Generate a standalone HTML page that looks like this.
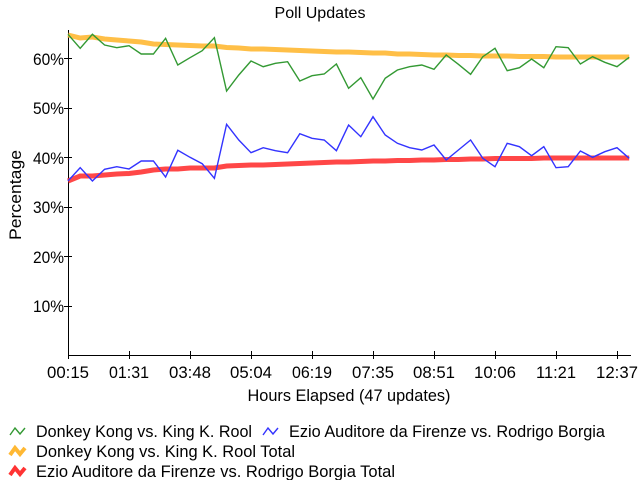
<!DOCTYPE html>
<html><head><meta charset="utf-8"><style>
html,body{margin:0;padding:0;background:#fff;}
svg{display:block;font-family:"Liberation Sans",sans-serif;}
</style></head><body>
<svg width="640" height="480" viewBox="0 0 640 480" xmlns="http://www.w3.org/2000/svg">
<rect width="640" height="480" fill="#fff"/>
<text x="320" y="18" font-size="16" text-anchor="middle" textLength="91" lengthAdjust="spacingAndGlyphs">Poll Updates</text>
<!-- axes -->
<g stroke="#000" stroke-width="1" fill="none">
<line x1="68.5" y1="30" x2="68.5" y2="356"/>
<line x1="68" y1="355.5" x2="631" y2="355.5"/>
<line x1="64" y1="58.5" x2="72" y2="58.5"/>
<line x1="64" y1="108.5" x2="72" y2="108.5"/>
<line x1="64" y1="157.5" x2="72" y2="157.5"/>
<line x1="64" y1="207.5" x2="72" y2="207.5"/>
<line x1="64" y1="256.5" x2="72" y2="256.5"/>
<line x1="64" y1="306.5" x2="72" y2="306.5"/>
<line x1="68.5" y1="351" x2="68.5" y2="359"/>
<line x1="129.5" y1="351" x2="129.5" y2="359"/>
<line x1="190.5" y1="351" x2="190.5" y2="359"/>
<line x1="251.5" y1="351" x2="251.5" y2="359"/>
<line x1="312.5" y1="351" x2="312.5" y2="359"/>
<line x1="373.5" y1="351" x2="373.5" y2="359"/>
<line x1="434.5" y1="351" x2="434.5" y2="359"/>
<line x1="495.5" y1="351" x2="495.5" y2="359"/>
<line x1="556.5" y1="351" x2="556.5" y2="359"/>
<line x1="617.5" y1="351" x2="617.5" y2="359"/>
</g>
<g font-size="17" text-anchor="end">
<text x="64" y="65" textLength="31" lengthAdjust="spacingAndGlyphs">60%</text>
<text x="64" y="114" textLength="31" lengthAdjust="spacingAndGlyphs">50%</text>
<text x="64" y="164" textLength="31" lengthAdjust="spacingAndGlyphs">40%</text>
<text x="64" y="213" textLength="31" lengthAdjust="spacingAndGlyphs">30%</text>
<text x="64" y="263" textLength="31" lengthAdjust="spacingAndGlyphs">20%</text>
<text x="64" y="312" textLength="31" lengthAdjust="spacingAndGlyphs">10%</text>
</g>
<g font-size="17" text-anchor="middle">
<text x="68" y="378" textLength="42" lengthAdjust="spacingAndGlyphs">00:15</text>
<text x="129" y="378" textLength="40" lengthAdjust="spacingAndGlyphs">01:31</text>
<text x="190" y="378" textLength="42" lengthAdjust="spacingAndGlyphs">03:48</text>
<text x="251" y="378" textLength="42" lengthAdjust="spacingAndGlyphs">05:04</text>
<text x="312" y="378" textLength="40" lengthAdjust="spacingAndGlyphs">06:19</text>
<text x="373" y="378" textLength="42" lengthAdjust="spacingAndGlyphs">07:35</text>
<text x="434" y="378" textLength="42" lengthAdjust="spacingAndGlyphs">08:51</text>
<text x="495" y="378" textLength="42" lengthAdjust="spacingAndGlyphs">10:06</text>
<text x="556" y="378" textLength="40" lengthAdjust="spacingAndGlyphs">11:21</text>
<text x="617" y="378" textLength="42" lengthAdjust="spacingAndGlyphs">12:37</text>
</g>
<text x="349" y="401" font-size="17" text-anchor="middle" textLength="203" lengthAdjust="spacingAndGlyphs">Hours Elapsed (47 updates)</text>
<text transform="translate(21,195) rotate(-90)" font-size="17" text-anchor="middle" textLength="90" lengthAdjust="spacingAndGlyphs">Percentage</text>
<!-- series -->
<polyline fill="none" stroke="#ffb833" stroke-opacity="0.9" stroke-width="5" points="68,35 80.2,38 92.4,37 104.6,39 116.8,40 129,41 141.2,42 153.4,44 165.6,44.5 177.8,45 190,45.5 202.2,46 214.4,46 226.6,47.5 238.8,48 251,49 263.2,49 275.4,49.5 287.6,50 299.8,50.5 312,51 324.2,51.5 336.4,52 348.6,52 360.8,52.5 373,53 385.2,53 397.4,54 409.6,54 421.8,54.5 434,55 446.2,55 458.4,55.5 470.6,55.5 482.8,56 495,56 507.2,56 519.4,56.5 531.6,56.5 543.8,56.5 556,57 568.2,57 580.4,57 592.6,57 604.8,57 617,57 629.2,57"/>
<polyline fill="none" stroke="#ff3333" stroke-opacity="0.9" stroke-width="5" points="68,181 80.2,176 92.4,176 104.6,175 116.8,174 129,173.5 141.2,172 153.4,170 165.6,169 177.8,169 190,168 202.2,168 214.4,168 226.6,166 238.8,165.5 251,165 263.2,165 275.4,164.5 287.6,164 299.8,163.5 312,163 324.2,162.5 336.4,162 348.6,162 360.8,161.5 373,161 385.2,161 397.4,160.5 409.6,160.5 421.8,160 434,160 446.2,159.5 458.4,159.5 470.6,159 482.8,159 495,158.5 507.2,158.5 519.4,158.5 531.6,158.5 543.8,158 556,158 568.2,158 580.4,158 592.6,158 604.8,158 617,158 629.2,158"/>
<polyline fill="none" stroke="#339933" stroke-width="1.4" points="68,34.3 80.2,48.3 92.4,34.3 104.6,45 116.8,47.7 129,45.7 141.2,54 153.4,54 165.6,38.3 177.8,65 190,57.7 202.2,50.7 214.4,37.7 226.6,91 238.8,75 251,61 263.2,66.7 275.4,63.3 287.6,61.7 299.8,81 312,75.7 324.2,74 336.4,64 348.6,88.3 360.8,77.7 373,99 385.2,78.3 397.4,70 409.6,66.7 421.8,65 434,69.3 446.2,55 458.4,64.3 470.6,74.3 482.8,56.7 495,48.3 507.2,70.7 519.4,67.7 531.6,59 543.8,67.7 556,46.7 568.2,47.7 580.4,64 592.6,56.7 604.8,62.3 617,66.7 629.2,57.3"/>
<polyline fill="none" stroke="#3333ff" stroke-width="1.4" points="68,181 80.2,167.7 92.4,181 104.6,169.3 116.8,166.7 129,169 141.2,161 153.4,161 165.6,177 177.8,150.3 190,157.3 202.2,163.7 214.4,178.3 226.6,124.3 238.8,140 251,152.7 263.2,147.7 275.4,150.7 287.6,152.7 299.8,133.7 312,138.3 324.2,140 336.4,150.7 348.6,125 360.8,136.7 373,116.7 385.2,135 397.4,143.3 409.6,147.7 421.8,150 434,145 446.2,160 458.4,150 470.6,140 482.8,158.3 495,166.7 507.2,143.3 519.4,146.7 531.6,155.7 543.8,146.7 556,167.7 568.2,166.7 580.4,151 592.6,157.3 604.8,151.7 617,147.7 629.2,158.3"/>
<!-- legend -->
<g fill="none">
<polyline stroke="#339933" stroke-width="1.4" points="10,435 15,428 20,434 25,428"/>
<polyline stroke="#3333ff" stroke-width="1.4" points="263,435 268,428 273,434 278,428"/>
<polyline stroke="#ffb833" stroke-width="4" points="10,455 15,448 20,454 25,448"/>
<polyline stroke="#ff3333" stroke-width="4" points="10,475 15,468 20,474 25,468"/>
</g>
<g font-size="17">
<text x="36" y="437" textLength="216" lengthAdjust="spacingAndGlyphs">Donkey Kong vs. King K. Rool</text>
<text x="289" y="437" textLength="316" lengthAdjust="spacingAndGlyphs">Ezio Auditore da Firenze vs. Rodrigo Borgia</text>
<text x="36" y="457" textLength="259" lengthAdjust="spacingAndGlyphs">Donkey Kong vs. King K. Rool Total</text>
<text x="36" y="477" textLength="359" lengthAdjust="spacingAndGlyphs">Ezio Auditore da Firenze vs. Rodrigo Borgia Total</text>
</g>
</svg>
</body></html>
